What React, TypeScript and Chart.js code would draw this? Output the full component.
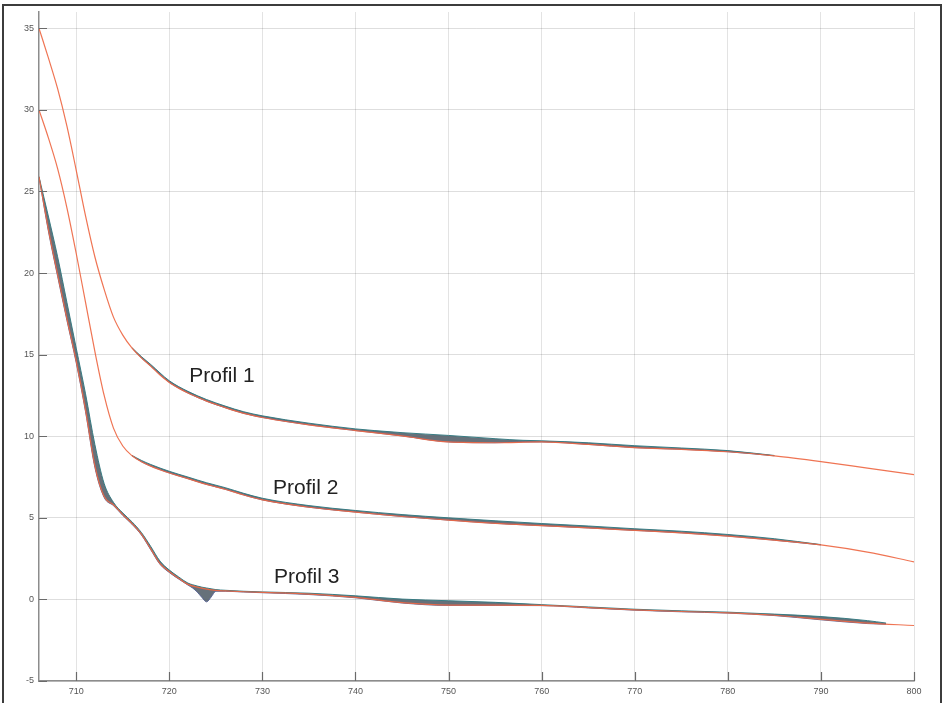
import React, { useEffect, useRef } from "react";
import { Chart, registerables } from "chart.js";

Chart.register(...registerables);

// Shared x sample positions
const X_GRID = [706, 707, 708, 709, 710, 711, 712, 713, 714, 715, 716, 717, 718, 719, 720, 721, 722, 723, 724, 725, 726, 728, 730, 732, 735, 740, 745, 750, 755, 760, 765, 770, 775, 780, 785, 790, 795, 800];

// Main (red) curves
const PROFIL1 = [35.0, 33.2, 31.3, 29.0, 26.3, 23.5, 21.0, 19.0, 17.3, 16.2, 15.4, 14.8, 14.3, 13.75, 13.3, 12.95, 12.65, 12.4, 12.15, 11.95, 11.75, 11.4, 11.15, 10.95, 10.7, 10.35, 10.02, 9.65, 9.6, 9.65, 9.5, 9.3, 9.2, 9.05, 8.8, 8.45, 8.05, 7.65];
const PROFIL2 = [30.0, 28.3, 26.4, 24.0, 21.2, 18.2, 15.2, 12.5, 10.5, 9.4, 8.8, 8.44, 8.17, 7.95, 7.75, 7.57, 7.4, 7.22, 7.05, 6.9, 6.75, 6.4, 6.1, 5.9, 5.65, 5.35, 5.08, 4.86, 4.66, 4.52, 4.38, 4.23, 4.08, 3.88, 3.63, 3.34, 2.9, 2.3];
const PROFIL3 = [25.9, 22.7, 19.9, 17.2, 14.6, 11.6, 8.2, 6.3, 5.8, 5.2, 4.65, 4.0, 3.1, 2.2, 1.7, 1.3, 0.92, 0.75, 0.63, 0.55, 0.52, 0.47, 0.43, 0.4, 0.32, 0.12, -0.2, -0.35, -0.35, -0.36, -0.5, -0.64, -0.74, -0.82, -0.97, -1.22, -1.45, -1.6];

// Bundles of repeated measurements (upper / lower envelopes)
const P1_BUNDLE_X = [716, 717, 718, 720, 722, 724, 726, 728, 730, 735, 740, 742, 745, 750, 755, 758, 760, 765, 770, 775, 780, 785];
const P1_BUNDLE_HI = [15.42, 14.88, 14.4, 13.4, 12.75, 12.25, 11.85, 11.5, 11.25, 10.8, 10.45, 10.35, 10.22, 10.05, 9.85, 9.75, 9.72, 9.6, 9.42, 9.28, 9.12, 8.82];
const P1_BUNDLE_LO = [15.4, 14.8, 14.3, 13.3, 12.65, 12.15, 11.75, 11.4, 11.15, 10.7, 10.35, 10.22, 10.02, 9.65, 9.6, 9.65, 9.65, 9.5, 9.3, 9.2, 9.05, 8.8];

const P2_BUNDLE_X = [716, 717, 718, 720, 722, 724, 726, 728, 730, 735, 740, 745, 750, 755, 760, 765, 770, 775, 780, 785, 790];
const P2_BUNDLE_HI = [8.82, 8.52, 8.27, 7.85, 7.5, 7.15, 6.85, 6.5, 6.2, 5.75, 5.45, 5.2, 5.0, 4.82, 4.65, 4.5, 4.33, 4.18, 3.98, 3.72, 3.36];
const P2_BUNDLE_LO = [8.8, 8.44, 8.17, 7.75, 7.4, 7.05, 6.75, 6.4, 6.1, 5.65, 5.35, 5.08, 4.86, 4.66, 4.52, 4.38, 4.23, 4.08, 3.88, 3.63, 3.34];

const P3_BUNDLE_X = [706, 707, 708, 709, 710, 711, 712, 713, 714, 715, 716, 717, 718, 719, 720, 721, 722, 722.5, 723, 723.5, 724, 724.5, 725, 726, 728, 730, 735, 740, 745, 750, 755, 760, 765, 770, 775, 780, 785, 790, 795, 797];
const P3_BUNDLE_HI = [25.9, 23.5, 21.0, 18.2, 15.4, 12.6, 9.5, 7.1, 5.95, 5.3, 4.75, 4.1, 3.25, 2.35, 1.8, 1.38, 1.0, 0.9, 0.82, 0.75, 0.7, 0.65, 0.6, 0.56, 0.5, 0.46, 0.38, 0.22, 0.02, -0.08, -0.18, -0.32, -0.46, -0.6, -0.7, -0.78, -0.9, -1.05, -1.3, -1.45];
const P3_BUNDLE_LO = [25.9, 22.6, 19.8, 17.1, 14.5, 11.5, 8.1, 6.25, 5.75, 5.15, 4.6, 3.95, 3.05, 2.15, 1.65, 1.25, 0.88, 0.7, 0.45, 0.12, -0.15, 0.15, 0.5, 0.5, 0.45, 0.41, 0.3, 0.1, -0.22, -0.37, -0.37, -0.38, -0.52, -0.66, -0.76, -0.84, -0.99, -1.25, -1.48, -1.52];

const X_TICKS = [710, 720, 730, 740, 750, 760, 770, 780, 790, 800];
const Y_TICKS = [-5, 0, 5, 10, 15, 20, 25, 30, 35];

const LABEL_TEXTS = ["Profil 1", "Profil 2", "Profil 3"];
const LABEL_X = [722.15, 731.15, 731.25];
const LABEL_Y = [13.3, 6.45, 1.0];

const FONT = "'Liberation Sans', Arial, sans-serif";

export default function App() {
  const ref = useRef<HTMLCanvasElement>(null);

  useEffect(() => {
    if (!ref.current) return;
    const pts = (xs: number[], ys: number[]) => xs.map((x, i) => ({ x, y: ys[i] }));

    const redLine = (data: any) => ({
      data,
      borderColor: "rgba(238,104,68,0.92)",
      borderWidth: 1.2,
      pointRadius: 0,
      fill: false,
      cubicInterpolationMode: "monotone",
      order: 0,
    });
    const hiLine = (data: any) => ({
      data,
      borderColor: "rgba(50,120,128,0.95)",
      borderWidth: 1,
      pointRadius: 0,
      fill: false,
      cubicInterpolationMode: "monotone",
      order: 1,
    });
    const loLine = (data: any) => ({
      data,
      borderColor: "rgba(88,100,150,0.95)",
      backgroundColor: "rgba(85,98,108,0.9)",
      borderWidth: 1,
      pointRadius: 0,
      fill: "-1",
      cubicInterpolationMode: "monotone",
      order: 1,
    });

    const inwardTicks = {
      id: "inwardTicks",
      afterDatasetsDraw(chart: any) {
        const { ctx, chartArea, scales } = chart;
        ctx.save();
        ctx.strokeStyle = "#6a6a6a";
        ctx.lineWidth = 1.2;
        ctx.beginPath();
        for (const v of Y_TICKS) {
          const y = Math.round(scales.y.getPixelForValue(v)) + 0.5;
          ctx.moveTo(chartArea.left, y);
          ctx.lineTo(chartArea.left + 8, y);
        }
        for (const v of X_TICKS) {
          const x = Math.round(scales.x.getPixelForValue(v)) + 0.5;
          ctx.moveTo(x, chartArea.bottom);
          ctx.lineTo(x, chartArea.bottom - 9);
        }
        ctx.stroke();
        ctx.restore();
      },
    };

    const labels = {
      id: "profileLabels",
      afterDatasetsDraw(chart: any) {
        const { ctx, scales } = chart;
        ctx.save();
        ctx.font = `21px ${FONT}`;
        ctx.fillStyle = "#222";
        ctx.textAlign = "left";
        ctx.textBaseline = "alphabetic";
        LABEL_TEXTS.forEach((t, i) => {
          ctx.fillText(t, scales.x.getPixelForValue(LABEL_X[i]), scales.y.getPixelForValue(LABEL_Y[i]));
        });
        ctx.restore();
      },
    };

    const chart = new Chart(ref.current, {
      type: "line",
      data: {
        datasets: [
          redLine(pts(X_GRID, PROFIL1)),
          redLine(pts(X_GRID, PROFIL2)),
          redLine(pts(X_GRID, PROFIL3)),
          hiLine(pts(P1_BUNDLE_X, P1_BUNDLE_HI)),
          loLine(pts(P1_BUNDLE_X, P1_BUNDLE_LO)),
          hiLine(pts(P2_BUNDLE_X, P2_BUNDLE_HI)),
          loLine(pts(P2_BUNDLE_X, P2_BUNDLE_LO)),
          hiLine(pts(P3_BUNDLE_X, P3_BUNDLE_HI)),
          loLine(pts(P3_BUNDLE_X, P3_BUNDLE_LO)),
        ] as any,
      },
      options: {
        animation: false,
        responsive: false,
        devicePixelRatio: 1,
        layout: { padding: { left: 0, right: 30, top: 12, bottom: 0 } },
        plugins: { legend: { display: false }, tooltip: { enabled: false } },
        scales: {
          x: {
            type: "linear",
            min: 706,
            max: 800,
            afterBuildTicks: (s: any) => {
              s.ticks = X_TICKS.map((v) => ({ value: v }));
            },
            afterFit: (s: any) => {
              s.height = 22;
            },
            grid: { color: "rgba(0,0,0,0.11)", drawTicks: false, lineWidth: 1 },
            border: { display: true, color: "#8c8c8c", width: 1.5 },
            ticks: { padding: 5, color: "#555", font: { size: 9, family: FONT }, maxRotation: 0, autoSkip: false },
          },
          y: {
            type: "linear",
            min: -5,
            max: 36,
            afterBuildTicks: (s: any) => {
              s.ticks = Y_TICKS.map((v) => ({ value: v }));
            },
            afterFit: (s: any) => {
              s.width = 39;
            },
            grid: { color: "rgba(0,0,0,0.13)", drawTicks: false, lineWidth: 1 },
            border: { display: true, color: "#8c8c8c", width: 1.5 },
            ticks: { padding: 5, color: "#555", font: { size: 9, family: FONT }, autoSkip: false },
          },
        },
      } as any,
      plugins: [inwardTicks, labels],
    });
    return () => chart.destroy();
  }, []);

  return (
    <div style={{ position: "fixed", left: 0, top: 0, width: 944, height: 703, overflow: "hidden", background: "#fff" }}>
      <canvas ref={ref} width={944} height={703} style={{ position: "absolute", left: 0, top: 0, width: 944, height: 703 }} />
      <div
        style={{
          position: "absolute",
          left: 2,
          top: 4,
          width: 940,
          height: 720,
          border: "2px solid #3c3c3c",
          boxSizing: "border-box",
          pointerEvents: "none",
        }}
      />
    </div>
  );
}
